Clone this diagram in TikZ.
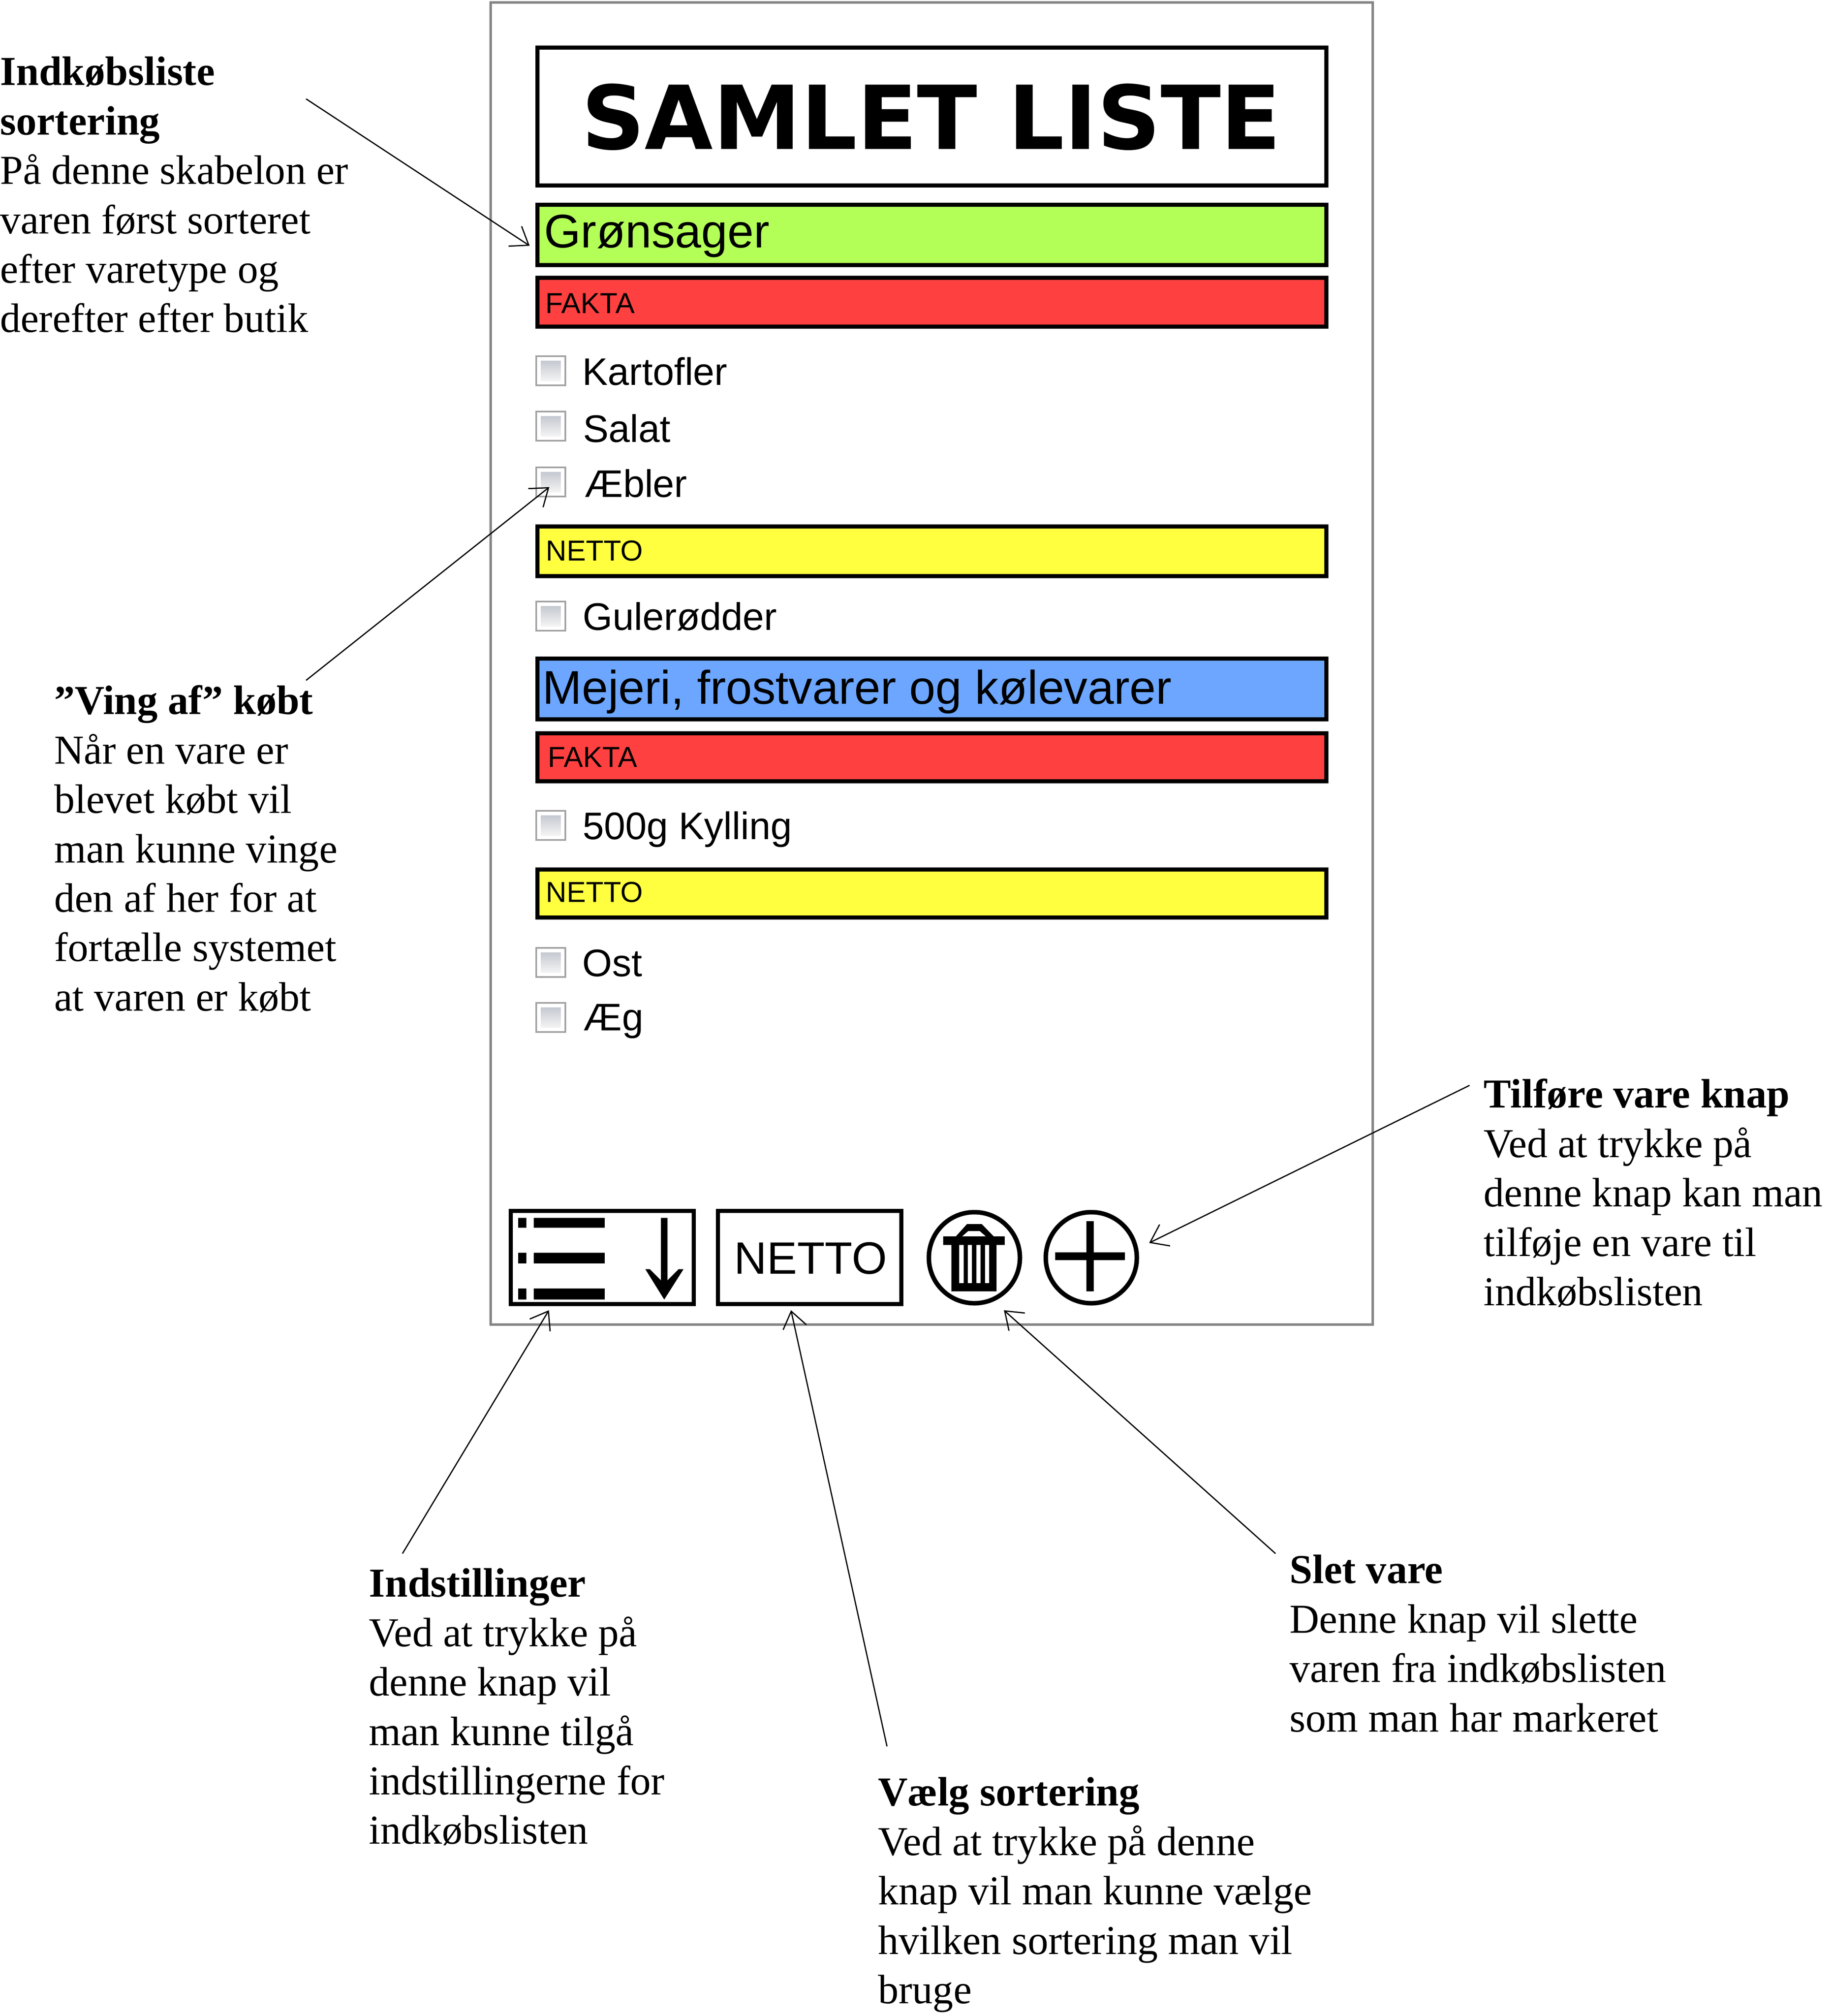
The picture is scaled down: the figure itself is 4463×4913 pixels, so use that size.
\documentclass[tikz,border=0pt]{standalone}
\usepackage{fontspec}
\usetikzlibrary{arrows.meta,fit}
\setmainfont{Liberation Serif}
\newfontfamily\arialf{Liberation Sans}
\newfontfamily\dejav{DejaVu Sans}
\definecolor{framegray}{HTML}{858585}
\definecolor{greenbar}{HTML}{B3FF57}
\definecolor{redbar}{HTML}{FF4040}
\definecolor{yellowbar}{HTML}{FFFF40}
\definecolor{bluebar}{HTML}{6CA6FF}
\definecolor{chkedge}{HTML}{A0A0A0}
\definecolor{chktop}{HTML}{C4C8D0}
\definecolor{chkbot}{HTML}{F4F4F4}
\tikzset{
  bx/.style={draw=black,line width=5pt,inner sep=0pt,outer sep=0pt},
  thinbx/.style={draw=black,line width=5pt,inner sep=0pt,outer sep=0pt},
  barlabel/.style={anchor=base west,inner sep=0pt,font=\arialf\fontsize{35.2}{40}\selectfont},
  catlabel/.style={anchor=base west,inner sep=0pt,font=\arialf\fontsize{57.5}{70}\selectfont},
  itemlabel/.style={anchor=base west,inner sep=0pt,font=\arialf\fontsize{46.8}{56}\selectfont},
  note/.style={anchor=north west,inner sep=0pt,align=left,font=\fontsize{50.1}{60.2}\selectfont},
  pointer/.style={draw=black,line width=1.5pt,-{Straight Barb[length=20pt,width=29pt,line width=1.5pt]}},
  roundbtn/.style={circle,draw=black,line width=5.5pt,minimum size=111pt,inner sep=0pt,outer sep=0pt},
  chkouter/.style={draw=chkedge,line width=2pt,fill=white,inner sep=0pt,outer sep=0pt},
  chkinner/.style={draw=none,top color=chktop,bottom color=chkbot,inner sep=0pt,outer sep=0pt},
}
\newcommand{\chkbox}[2]{%
  \node (#1) [chkouter,fit={(1307,#2)(1378,#2+71)}] {};
  \node (#1i) [chkinner,fit={(1318,#2+11)(1367,#2+60)}] {};
}
\begin{document}
\begin{tikzpicture}[x=0.5pt,y=-0.5pt]
\useasboundingbox (0,0) rectangle (4463,4913);
% frame
\node (frame) [draw=framegray,line width=3pt,inner sep=0pt,outer sep=0pt,fit={(1196,6)(3346,3228)}] {};
% title
\node (titlebox) [bx,fit={(1310,116)(3233,452)}] {};
\node (titletext) at (2270,285) [inner sep=0pt,font=\dejav\bfseries\fontsize{107.5}{130}\selectfont] {SAMLET LISTE};
% bars
\node (gron) [bx,fill=greenbar,fit={(1310,499)(3233,646)}] {};
\node (grontext) [catlabel] at (1326,603) {Grønsager};
\node (fakta1) [bx,fill=redbar,fit={(1310,677)(3233,796)}] {};
\node (fakta1text) [barlabel] at (1329,763) {FAKTA};
\node (netto1) [bx,fill=yellowbar,fit={(1310,1283)(3233,1404)}] {};
\node (netto1text) [barlabel] at (1330,1366) {NETTO};
\node (mejeri) [bx,fill=bluebar,fit={(1310,1605)(3233,1753)}] {};
\node (mejeritext) [catlabel] at (1322,1715) {Mejeri, frostvarer og kølevarer};
\node (fakta2) [bx,fill=redbar,fit={(1310,1787)(3233,1904)}] {};
\node (fakta2text) [barlabel] at (1335,1869) {FAKTA};
\node (netto2) [bx,fill=yellowbar,fit={(1310,2119)(3233,2236)}] {};
\node (netto2text) [barlabel] at (1330,2198) {NETTO};
% items
\chkbox{c1}{868}
\node (i1) [itemlabel] at (1419,938) {Kartofler};
\chkbox{c2}{1003}
\node (i2) [itemlabel] at (1421,1077) {Salat};
\chkbox{c3}{1139}
\node (i3) [itemlabel] at (1425,1211) {Æbler};
\chkbox{c4}{1466}
\node (i4) [itemlabel] at (1420,1535) {Gulerødder};
\chkbox{c5}{1976}
\node (i5) [itemlabel] at (1420,2045) {500g Kylling};
\chkbox{c6}{2310}
\node (i6) [itemlabel] at (1419,2379) {Ost};
\chkbox{c7}{2444}
\node (i7) [itemlabel] at (1422,2511) {Æg};
% settings button
\node (settings) [thinbx,fit={(1245,2951)(1691,3178)}] {};
\foreach \yy/\hh in {2968/2992,3053/3079,3140/3167}{
  \fill (1263,\yy) rectangle (1283,\hh);
  \fill (1301,\yy) rectangle (1474,\hh);
}
\draw[line width=8pt] (1619,2968) -- (1619,3140);
\fill (1573,3093) -- (1584,3093) -- (1619,3128) -- (1654,3093) -- (1666,3093) -- (1619,3167) -- cycle;
% netto button
\node (nettobtn) [thinbx,fit={(1750,2951)(2197,3178)}] {};
\node (nettobtntext) at (1976,3066) [inner sep=0pt,font=\arialf\fontsize{55.2}{68}\selectfont] {NETTO};
% trash button
\node (trash) [roundbtn] at (2375,3065) {};
\fill (2299,3013) rectangle (2449,3034);
\fill[even odd rule] (2330,3013) -- (2357,2983) -- (2393,2983) -- (2422,3013) -- cycle
  (2345,3013) -- (2360,3000) -- (2388,3000) -- (2403,3013) -- cycle;
\fill (2319,3034) rectangle (2429,3147);
\fill[white] (2338,3034) rectangle (2349,3127);
\fill[white] (2359,3034) rectangle (2369,3127);
\fill[white] (2380,3034) rectangle (2390,3127);
\fill[white] (2401,3034) rectangle (2411,3127);
% plus button
\node (plus) [roundbtn] at (2660,3065) {};
\fill (2572,3052) rectangle (2742,3071);
\fill (2648,2976) rectangle (2666,3147);
% notes
\node (n1) [note] at (0,138) {\textbf{Indkøbsliste}\\\textbf{sortering}\\På denne skabelon er\\varen først sorteret\\efter varetype og\\derefter efter butik};
\node (n2) [note] at (132,1670) {\textbf{”Ving af” købt}\\Når en vare er\\blevet købt vil\\man kunne vinge\\den af her for at\\fortælle systemet\\at varen er købt};
\node (n3) [note] at (3616,2629) {\textbf{Tilføre vare knap}\\Ved at trykke på\\denne knap kan man\\tilføje en vare til\\indkøbslisten};
\node (n4) [note] at (899,3822) {\textbf{Indstillinger}\\Ved at trykke på\\denne knap vil\\man kunne tilgå\\indstillingerne for\\indkøbslisten};
\node (n5) [note] at (2140,4331) {\textbf{Vælg sortering}\\Ved at trykke på denne\\knap vil man kunne vælge\\hvilken sortering man vil\\bruge};
\node (n6) [note] at (3143,3789) {\textbf{Slet vare}\\Denne knap vil slette\\varen fra indkøbslisten\\som man har markeret};
% connector ends
\coordinate (a1s) at (746,241);   \coordinate (a1e) at (1291,599);
\coordinate (a2s) at (746,1658);  \coordinate (a2e) at (1339,1187);
\coordinate (a3s) at (3582,2645); \coordinate (a3e) at (2801,3029);
\coordinate (a4s) at (981,3786);  \coordinate (a4e) at (1338,3193);
\coordinate (a5s) at (2162,4256); \coordinate (a5e) at (1928,3193);
\coordinate (a6s) at (3109,3786); \coordinate (a6e) at (2447,3193);
\draw[pointer] (a1s) -- (a1e);
\draw[pointer] (a2s) -- (a2e);
\draw[pointer] (a3s) -- (a3e);
\draw[pointer] (a4s) -- (a4e);
\draw[pointer] (a5s) -- (a5e);
\draw[pointer] (a6s) -- (a6e);
\end{tikzpicture}
\end{document}
